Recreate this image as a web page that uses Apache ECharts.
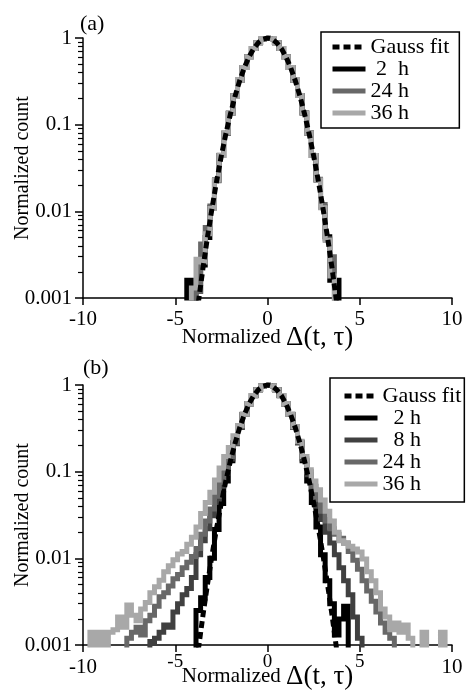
<!DOCTYPE html>
<html><head><meta charset="utf-8">
<script src="https://cdn.jsdelivr.net/npm/echarts@6/dist/echarts.min.js"></script>
<style>html,body{margin:0;padding:0;background:#fff}#c{width:468px;height:690px}</style>
</head><body><div id="c"></div>
<script>
// ---------- tick labels ----------
const xTickLabels = ['-10', '-5', '0', '5', '10'];
const yTickLabels = ['0.001', '0.01', '0.1', '1'];
const yMinorTicks = [0.002,0.003,0.004,0.005,0.006,0.007,0.008,0.009,
                     0.02,0.03,0.04,0.05,0.06,0.07,0.08,0.09,
                     0.2,0.3,0.4,0.5,0.6,0.7,0.8,0.9];

// ---------- Gauss fit (both panels) ----------
const gaussX = [-3.75,-3.5,-3.25,-3,-2.75,-2.5,-2.25,-2,-1.75,-1.5,-1.25,-1,-0.75,-0.5,-0.25,0,
                0.25,0.5,0.75,1,1.25,1.5,1.75,2,2.25,2.5,2.75,3,3.25,3.5,3.75];
const gaussY = [0.00088,0.00219,0.00509,0.0111,0.0228,0.0439,0.0796,0.1353,0.2163,0.3247,0.4578,0.6065,0.7548,0.8825,0.9692,1,
                0.9692,0.8825,0.7548,0.6065,0.4578,0.3247,0.2163,0.1353,0.0796,0.0439,0.0228,0.0111,0.00509,0.00219,0.00088];

// ---------- panel (a) ----------
const xA = [-4.5,-4.25,-4,-3.75,-3.5,-3.25,-3,-2.75,-2.5,-2.25,-2,-1.75,-1.5,-1.25,-1,-0.75,-0.5,-0.25,0,
            0.25,0.5,0.75,1,1.25,1.5,1.75,2,2.25,2.5,2.75,3,3.25,3.5,3.75,4,4.25,4.5];
const a2h = [0.0001,0.0016,0.0001,0.0012,
             0.0024,0.0050,0.0110,0.0230,
             0.0440,0.0790,0.1350,0.2160,
             0.3250,0.4580,0.6070,0.7550,
             0.8830,0.9690,1,0.9690,
             0.8820,0.7550,0.6060,0.4570,
             0.3250,0.2170,0.1360,0.0800,
             0.0440,0.0230,0.0112,0.0051,
             0.0016,0.0016,0.0001,null,
             null];
const a24h = [null,null,0.0001,0.0012,
              0.0042,0.0065,0.0115,0.0225,
              0.0445,0.0800,0.1350,0.2160,
              0.3250,0.4580,0.6070,0.7550,
              0.8830,0.9690,1,0.9690,
              0.8820,0.7550,0.6060,0.4570,
              0.3250,0.2170,0.1360,0.0800,
              0.0440,0.0235,0.0120,0.0048,
              0.0030,0.0001,null,null,
              null];
const a36h = [null,0.0001,0.0013,0.0028,
              0.0026,0.0055,0.0108,0.0230,
              0.0440,0.0800,0.1350,0.2160,
              0.3250,0.4580,0.6070,0.7550,
              0.8830,0.9690,1,0.9690,
              0.8820,0.7550,0.6060,0.4570,
              0.3250,0.2170,0.1360,0.0800,
              0.0440,0.0230,0.0110,0.0046,
              0.0018,0.0001,null,null,
              null];

// ---------- panel (b) ----------
const xB = [-9.75,-9.5,-9.25,-9,-8.75,-8.5,-8.25,-8,-7.75,-7.5,-7.25,-7,-6.75,-6.5,-6.25,-6,
            -5.75,-5.5,-5.25,-5,-4.75,-4.5,-4.25,-4,-3.75,-3.5,-3.25,-3,-2.75,-2.5,-2.25,-2,
            -1.75,-1.5,-1.25,-1,-0.75,-0.5,-0.25,0,0.25,0.5,0.75,1,1.25,1.5,1.75,2,
            2.25,2.5,2.75,3,3.25,3.5,3.75,4,4.25,4.5,4.75,5,5.25,5.5,5.75,6,
            6.25,6.5,6.75,7,7.25,7.5,7.75,8,8.25,8.5,8.75,9,9.25,9.5,9.75];
const b2h = [null,null,null,null, null,null,null,null, null,null,null,null,
             null,null,null,null, null,null,null,null,
             null,null,null,0.0001,
             0.0025,0.0035,0.0060,0.0100,
             0.0215,0.0430,0.0780,0.1340,
             0.2150,0.3240,0.4570,0.6060,
             0.7540,0.8820,0.9690,
             1,
             0.9690,0.8820,0.7540,0.6060,
             0.4570,0.3240,0.2150,0.1340,
             0.0780,0.0440,0.0230,0.0110,
             0.0055,0.0030,0.0013,0.0020,
             0.0028,0.0001,null,null,
             null,null,null,null, null,null,null,null, null,null,null,null,
             null,null,null,null, null,null,null];
const b8h = [null,null,null,null, null,null,null,null, null,null,null,null,
             null,0.0001,0.0011,0.0012,
             0.0014,0.0017,0.0016,0.0024,
             0.0030,0.0038,0.0045,0.0060,
             0.0110,0.0160,0.0220,0.0310,
             0.0440,0.0680,0.0950,0.1400,
             0.2100,0.3250,0.4580,0.6070,
             0.7550,0.8830,0.9690,
             1,
             0.9690,0.8830,0.7550,0.6070,
             0.4580,0.3250,0.2150,0.1400,
             0.0920,0.0620,0.0400,0.0280,
             0.0200,0.0150,0.0110,0.0078,
             0.0055,0.0038,0.0021,0.0012,
             0.0001,null,null,null,
             null,null,null,null, null,null,null,null, null,null,null,null,
             null,null,null];
const b24h = [null,null,null,null, null,null,null,null,
              0.0001,0.0012,0.0014,0.0016,
              0.0013,0.0019,0.0022,0.0028,
              0.0036,0.0040,0.0048,0.0058,
              0.0065,0.0078,0.0090,0.0105,
              0.0130,0.0190,0.0270,0.0370,
              0.0520,0.0750,0.1050,0.1500,
              0.2150,0.3300,0.4600,0.6080,
              0.7550,0.8820,0.9690,
              1,
              0.9690,0.8820,0.7550,0.6080,
              0.4590,0.3280,0.2200,0.1500,
              0.1000,0.0680,0.0480,0.0350,
              0.0270,0.0220,0.0190,0.0170,
              0.0150,0.0120,0.0095,0.0075,
              0.0055,0.0042,0.0032,0.0024,
              0.0018,0.0014,0.0012,0.0001,
              null,null,null,null, null,null,null,null, null,null,null];
const b36h = [0.0001,0.0014,0.0001,0.0014,
              0.0001,0.0014,0.0015,0.0021,
              0.0016,0.0029,0.0022,0.0019,
              0.0026,0.0031,0.0040,0.0047,
              0.0056,0.0070,0.0082,0.0096,
              0.0112,0.0120,0.0145,0.0175,
              0.0230,0.0330,0.0440,0.0580,
              0.0800,0.1100,0.1500,0.1900,
              0.2600,0.3400,0.4600,0.6100,
              0.7550,0.8800,0.9700,
              1,
              0.9700,0.8800,0.7550,0.6100,
              0.4600,0.3300,0.2250,0.1500,
              0.1050,0.0780,0.0620,0.0470,
              0.0350,0.0270,0.0200,0.0160,
              0.0148,0.0138,0.0128,0.0118,
              0.0098,0.0070,0.0055,0.0040,
              0.0026,0.0021,0.0015,0.0018,
              0.0014,0.0017,0.0012,0.0001,
              0.0001,0.0014,0.0001,0.0001,
              0.0001,0.0014,0.0001];

// ---------- styling ----------
const FONT = 'Liberation Serif';
const COL = {g: '#000000', h2: '#000000', h8: '#404040', h24: '#686868', h36: '#a8a8a8'};
const LW = 5;

function pairs(xs, ys) { return xs.map((x, i) => [x, ys[i] == null ? '-' : ys[i]]); }

function dataSeries(name, xs, ys, color, gi) {
  return {
    name, type: 'line', xAxisIndex: gi, yAxisIndex: gi * 2,
    data: pairs(xs, ys), step: 'middle', symbol: 'none', showSymbol: false,
    connectNulls: false, clip: true,
    lineStyle: {color, width: LW, join: 'miter'}, itemStyle: {color}
  };
}
function gaussSeries(gi) {
  return {
    name: 'Gauss fit', type: 'line', xAxisIndex: gi, yAxisIndex: gi * 2,
    data: pairs(gaussX, gaussY), symbol: 'none', showSymbol: false, clip: true, z: 5,
    lineStyle: {color: COL.g, width: LW, type: [7, 4], cap: 'butt'}, itemStyle: {color: COL.g}
  };
}

// panel (b) labels -5, 0, 5 sit a little higher and smaller than -10 and 10
function xLabelFmtA(v) { return xTickLabels[Math.round((v + 10) / 5)]; }
function xLabelFmtB(v) {
  const i = Math.round((v + 10) / 5);
  return (i === 0 || i === 4) ? '{gap|}\n{big|' + xTickLabels[i] + '}' : '{small|' + xTickLabels[i] + '}';
}

function xAxis(gi, nameGap, margin, fmt) {
  return {
    type: 'value', gridIndex: gi, min: -10, max: 10, interval: 5,
    axisLine: {show: true, onZero: false, lineStyle: {color: '#000', width: 1.5}},
    axisTick: {show: true, length: 7, lineStyle: {color: '#000', width: 1.5}},
    axisLabel: {fontFamily: FONT, fontSize: 21, color: '#000', margin, formatter: fmt,
                rich: {
                  gap: {fontSize: 4, lineHeight: 4},
                  big: {fontFamily: FONT, fontSize: 21, color: '#000'},
                  small: {fontFamily: FONT, fontSize: 19, color: '#000'}
                }},
    splitLine: {show: false},
    name: '{n|Normalized }{d|\u0394(t, \u03c4)}', nameLocation: 'middle', nameGap,
    nameMoveOverlap: false,
    nameTextStyle: {color: '#000', rich: {
      n: {fontFamily: FONT, fontSize: 21, color: '#000'},
      d: {fontFamily: FONT, fontSize: 27, color: '#000'}
    }}
  };
}
function yAxisMain(gi) {
  return {
    type: 'log', logBase: 10, gridIndex: gi, min: 0.001, max: 1, position: 'left',
    axisLine: {show: true, onZero: false, lineStyle: {color: '#000', width: 1.5}},
    axisTick: {show: true, length: 8, lineStyle: {color: '#000', width: 1.5}},
    axisLabel: {fontFamily: FONT, fontSize: 21, color: '#000', margin: 11,
                formatter: v => yTickLabels[Math.round(Math.log10(v)) + 3]},
    splitLine: {show: false}, minorTick: {show: false},
    name: 'Normalized count', nameLocation: 'middle', nameGap: 50, nameMoveOverlap: false,
    nameTextStyle: {fontFamily: FONT, fontSize: 20, color: '#000'}
  };
}
function yAxisMinor(gi) {
  return {
    type: 'value', gridIndex: gi, min: -3, max: 0, position: 'left',
    axisLine: {show: false, onZero: false}, axisLabel: {show: false}, splitLine: {show: false},
    axisTick: {show: true, length: 5, lineStyle: {color: '#000', width: 1.2},
               customValues: yMinorTicks.map(Math.log10)}
  };
}
function legend(left, top, padding, lineHeight, names, fmt) {
  return {
    left, top, orient: 'vertical', padding, itemGap: 0, itemWidth: 33, itemHeight: 14,
    data: names, formatter: fmt, selectedMode: false,
    backgroundColor: '#fff', borderColor: '#000', borderWidth: 1.5, borderRadius: 0,
    textStyle: {fontFamily: FONT, fontSize: 22, color: '#000', lineHeight},
    itemStyle: {opacity: 0}, lineStyle: {width: LW}
  };
}

const chart = echarts.init(document.getElementById('c'), null, {renderer: 'canvas'});
chart.setOption({
  animation: false,
  backgroundColor: '#fff',
  title: [
    {text: '(a)', left: 80, top: 13, padding: 0, textStyle: {fontFamily: FONT, fontSize: 22, fontWeight: 'normal', color: '#000'}},
    {text: '(b)', left: 83, top: 357, padding: 0, textStyle: {fontFamily: FONT, fontSize: 22, fontWeight: 'normal', color: '#000'}}
  ],
  grid: [
    {left: 83, right: 16, top: 38, height: 260, containLabel: false, outerBoundsMode: 'none'},
    {left: 83, right: 16, top: 385, height: 260, containLabel: false, outerBoundsMode: 'none'}
  ],
  xAxis: [xAxis(0, 26, 11, xLabelFmtA), xAxis(1, 18, 8, xLabelFmtB)],
  yAxis: [yAxisMain(0), yAxisMinor(0), yAxisMain(1), yAxisMinor(1)],
  legend: [
    legend(321, 32, [4, 10, 4, 9], 21, ['Gauss fit', '2 h', '24 h', '36 h'],
           n => n === '2 h' ? ' 2  h' : n),
    legend(330, 378, [7, 3, 7, 12], 20, ['Gauss fit', '2 h', '8 h', '24 h', '36 h'],
           n => n.length === 3 ? '  ' + n : n)
  ],
  series: [
    dataSeries('2 h', xA, a2h, COL.h2, 0),
    dataSeries('24 h', xA, a24h, COL.h24, 0),
    dataSeries('36 h', xA, a36h, COL.h36, 0),
    gaussSeries(0),
    dataSeries('2 h', xB, b2h, COL.h2, 1),
    dataSeries('8 h', xB, b8h, COL.h8, 1),
    dataSeries('24 h', xB, b24h, COL.h24, 1),
    dataSeries('36 h', xB, b36h, COL.h36, 1),
    gaussSeries(1)
  ]
});
</script></body></html>
